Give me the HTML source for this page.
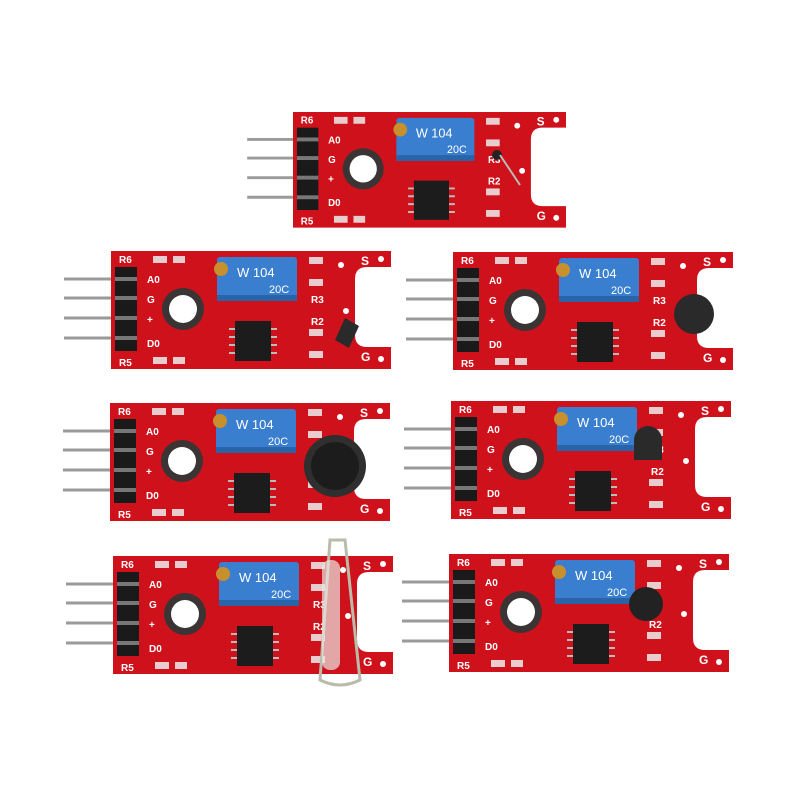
<!DOCTYPE html>
<html><head><meta charset="utf-8"><style>
html,body{margin:0;padding:0;background:#fff;}
svg{display:block}
text{font-family:"Liberation Sans",sans-serif;fill:#fff;font-size:10px;font-weight:bold}
</style></head><body>
<svg width="800" height="800" viewBox="0 0 800 800" xmlns="http://www.w3.org/2000/svg">
<defs>
<g id="board">
  <g stroke="#9a9a9a" stroke-width="3">
    <line x1="-47" y1="28" x2="20" y2="28"/>
    <line x1="-47" y1="47" x2="20" y2="47"/>
    <line x1="-47" y1="67" x2="20" y2="67"/>
    <line x1="-47" y1="87" x2="20" y2="87"/>
  </g>
  <path d="M0 0 H280 V16 H256 Q244 16 244 28 V84 Q244 96 256 96 H280 V118 H0 Z" fill="#cf111b"/>
  <rect x="4" y="16" width="22" height="84" fill="#1a1a1a"/>
  <g fill="#777"><rect x="4" y="26" width="22" height="4"/><rect x="4" y="45" width="22" height="4"/><rect x="4" y="65" width="22" height="4"/><rect x="4" y="85" width="22" height="4"/></g>
  <circle cx="72" cy="58" r="21" fill="#3a3434"/>
  <circle cx="72" cy="58" r="14" fill="#fff"/>
  <rect x="106" y="6" width="80" height="44" rx="3" fill="#3a7fcf"/>
  <rect x="106" y="44" width="80" height="6" fill="#2a64a8"/>
  <text x="126" y="26" style="font-size:13px;font-weight:normal">W 104</text>
  <text x="158" y="42" style="font-size:11px;font-weight:normal">20C</text>
  <circle cx="110" cy="18" r="7" fill="#c8902c"/>
  <g stroke="#bbb" stroke-width="2">
    <line x1="118" y1="78" x2="166" y2="78"/><line x1="118" y1="86" x2="166" y2="86"/>
    <line x1="118" y1="94" x2="166" y2="94"/><line x1="118" y1="102" x2="166" y2="102"/>
  </g>
  <rect x="124" y="70" width="36" height="40" fill="#1c1c1c"/>
  <g fill="#eee" opacity="0.85">
    <rect x="42" y="5" width="14" height="7"/><rect x="62" y="5" width="12" height="7"/>
    <rect x="198" y="6" width="14" height="7"/><rect x="198" y="28" width="14" height="7"/>
    <rect x="198" y="78" width="14" height="7"/><rect x="198" y="100" width="14" height="7"/>
    <rect x="42" y="106" width="14" height="7"/><rect x="62" y="106" width="12" height="7"/>
  </g>
  <g fill="#fff"><circle cx="230" cy="14" r="3"/><circle cx="270" cy="8" r="3"/><circle cx="270" cy="108" r="3"/><circle cx="235" cy="60" r="3"/></g>
  <text x="8" y="12">R6</text><text x="8" y="115">R5</text>
  <text x="36" y="32">A0</text><text x="36" y="52">G</text><text x="36" y="72">+</text><text x="36" y="96">D0</text>
  <text x="200" y="52">R3</text><text x="200" y="74">R2</text>
  <text x="250" y="14" style="font-size:12px">S</text>
  <text x="250" y="110" style="font-size:12px">G</text>
</g>
</defs>
<g transform="translate(293,112) scale(0.975,0.98)"><use href="#board"/></g>
<circle cx="497" cy="155" r="5" fill="#222"/><line x1="500" y1="155" x2="520" y2="185" stroke="#bbb" stroke-width="2"/>

<use href="#board" transform="translate(111,251)"/>
<path d="M345 318 l14 8 l-10 22 l-14 -8z" fill="#2a2a2a"/>

<use href="#board" transform="translate(453,252)"/>
<circle cx="694" cy="314" r="20" fill="#2a2a2a"/>

<use href="#board" transform="translate(110,403)"/>
<circle cx="335" cy="466" r="31" fill="#2f2f2f"/><circle cx="335" cy="466" r="24" fill="#1c1c1c"/>

<use href="#board" transform="translate(451,401)"/>
<path d="M634 440 a14 14 0 0 1 28 0 v20 h-28z" fill="#2a2a2a"/>

<use href="#board" transform="translate(113,556)"/>
<path d="M330 540 L320 680 Q340 690 360 680 L345 540 Z" fill="none" stroke="#bba" stroke-width="3"/>
<rect x="322" y="560" width="18" height="110" rx="8" fill="#e8e6e0" opacity="0.7"/>

<use href="#board" transform="translate(449,554)"/>
<circle cx="646" cy="604" r="17" fill="#222"/>
</svg>
</body></html>
